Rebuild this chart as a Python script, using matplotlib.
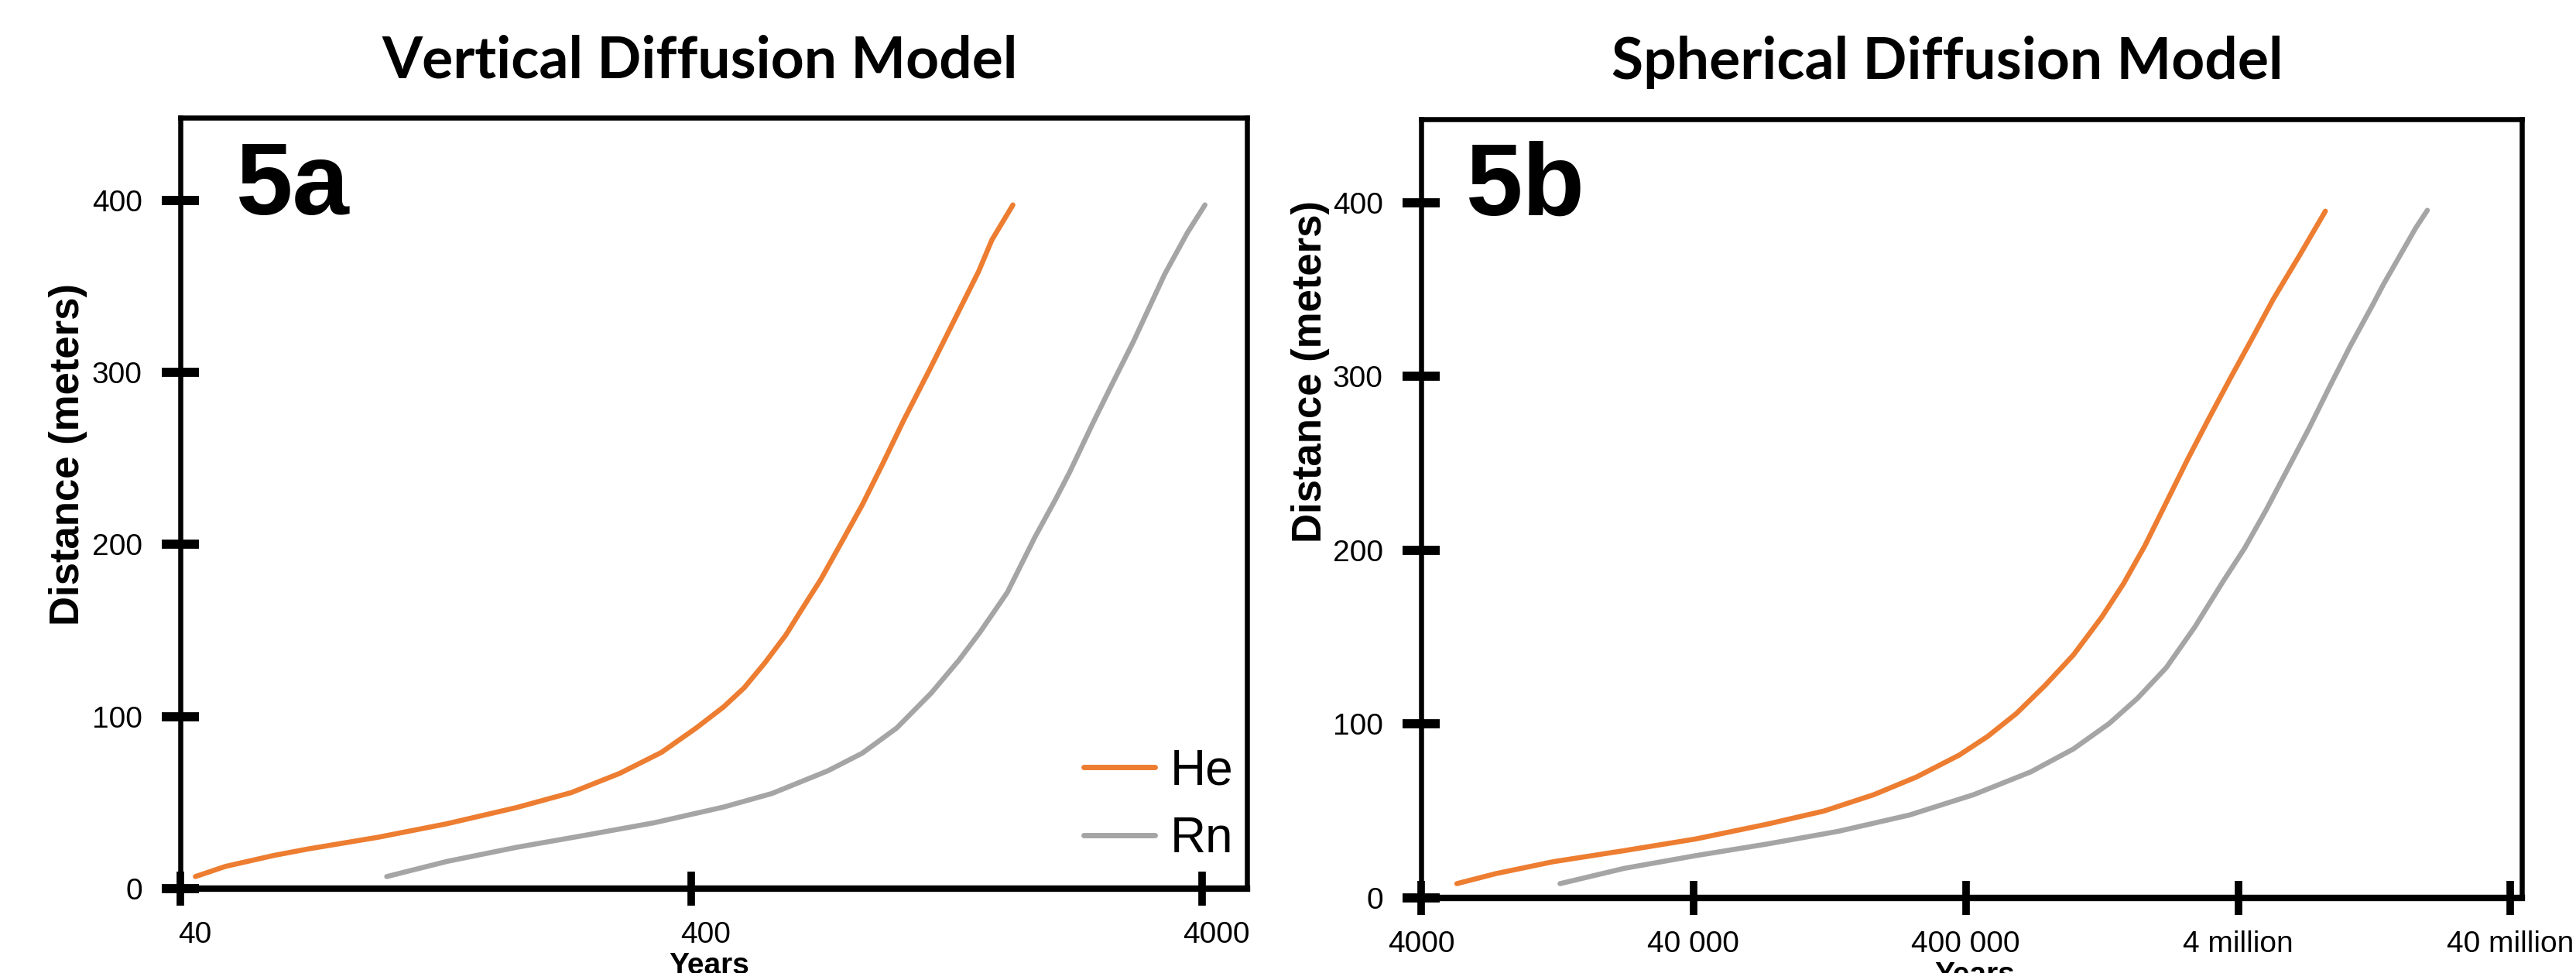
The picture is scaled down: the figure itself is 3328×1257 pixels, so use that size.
import matplotlib
matplotlib.use("Agg")
import matplotlib.pyplot as plt
import matplotlib.transforms as mtransforms

# Fig 5a - vertical diffusion, years vs distance (m)
vert_he_years = [42.8, 49.0, 61.0, 71.3, 97.3, 133, 182, 233, 290, 350, 409, 463, 508, 558,
                 613, 653, 717, 787, 865, 949, 1042, 1172, 1462, 1552, 1706]
vert_he_dist = [7.0, 12.9, 19.3, 23.1, 29.8, 37.7, 47.1, 55.8, 67.0, 79.2, 93.3, 105.6, 116.7, 131.3,
                147.4, 160.5, 179.5, 201.0, 223.0, 247.0, 272.0, 301.6, 358.7, 377.0, 397.3]
vert_rn_years = [101.4, 133, 182, 248, 339, 463, 576, 740, 865, 1010, 1181, 1337, 1469, 1664,
                 1885, 2070, 2203, 2443, 2656, 2938, 3381, 3744, 4055]
vert_rn_dist = [7.0, 15.8, 24.0, 31.0, 38.3, 47.4, 55.3, 68.4, 78.7, 93.3, 113.7, 132.7, 148.8, 172.2,
                204.4, 226.5, 242.0, 270.1, 292.0, 318.0, 357.0, 381.0, 397.3]

# Fig 5b - spherical diffusion
sph_he_years = [5408, 7535, 12190, 22270, 40690, 74430, 120600, 183800, 263800, 378600, 481800,
                613300, 781000, 993300, 1.264e6, 1.516e6, 1.817e6, 2.178e6, 2.608e6, 3.126e6,
                3.744e6, 4.487e6, 5.36e6, 6.74e6, 8.36e6]
sph_he_dist = [8.2, 14.0, 20.8, 27.2, 33.9, 42.4, 50.0, 59.4, 69.6, 82.2, 93.0, 106.1, 122.2, 139.8,
               161.7, 180.7, 202.6, 227.5, 252.3, 276.0, 299.0, 321.5, 344.0, 370.0, 395.1]
sph_rn_years = [12940, 22270, 40690, 74430, 135900, 248400, 427300, 692300, 993300, 1.343e6,
                1.709e6, 2.178e6, 2.770e6, 3.524e6, 4.224e6, 5.063e6, 6.067e6, 7.267e6, 8.702e6,
                1.03e7, 1.250e7, 1.364e7, 1.794e7, 1.98e7]
sph_rn_dist = [8.2, 17.0, 24.3, 31.0, 38.3, 47.7, 59.4, 72.5, 85.7, 100.3, 114.9, 132.5, 155.8, 182.2,
               201.2, 223.1, 246.5, 269.9, 294.7, 317.3, 341.5, 352.8, 385.4, 395.6]

vert_ticks = [40, 400, 4000]
vert_tick_labels = ["40", "400", "4000"]
sph_ticks = [4000, 40000, 400000, 4e6, 4e7]
sph_tick_labels = ["4000", "40 000", "400 000", "4 million", "40 million"]
dist_ticks = [0, 100, 200, 300, 400]

HE_COLOR = "#ED7D31"
RN_COLOR = "#A5A5A5"
SANS = ["Liberation Sans", "DejaVu Sans"]
TITLE = ["Lato", "DejaVu Sans"]

fig = plt.figure(figsize=(33.28, 12.57), dpi=100)
ax1 = fig.add_axes([233 / 3328, 1 - 1148 / 1257, 1378 / 3328, 996 / 1257])
ax2 = fig.add_axes([1836 / 3328, 1 - 1160 / 1257, 1422 / 3328, 1006 / 1257])


def style_axes(ax, xlim, ticks, labels):
    ax.set_xscale("log")
    ax.set_xlim(*xlim)
    ax.set_ylim(0, 448)
    ax.set_xticks(ticks)
    ax.set_xticklabels(labels)
    ax.xaxis.set_minor_locator(matplotlib.ticker.NullLocator())
    ax.set_yticks(dist_ticks)
    for side in ["left", "top", "right"]:
        ax.spines[side].set_linewidth(4.7)
    ax.spines["bottom"].set_linewidth(6.0)
    ax.tick_params(axis="y", direction="inout", length=35, width=8.5, pad=18)
    ax.tick_params(axis="x", direction="inout", length=32, width=7, pad=14)
    for lab in ax.get_xticklabels() + ax.get_yticklabels():
        lab.set_family(SANS)
        lab.set_fontsize(28)
    ax.set_ylabel("Distance (meters)", family=SANS, fontweight="bold", fontsize=38)
    ax.set_xlabel("Years", family=SANS, fontweight="bold", fontsize=28, va="top")


# 5a
ax1.plot(vert_he_years, vert_he_dist, color=HE_COLOR, lw=4.7, solid_capstyle="round", label="He")
ax1.plot(vert_rn_years, vert_rn_dist, color=RN_COLOR, lw=4.7, solid_capstyle="round", label="Rn")
style_axes(ax1, (40, 4900), vert_ticks, vert_tick_labels)
shift = mtransforms.ScaledTranslation(0.19, 0, fig.dpi_scale_trans)
for lab in ax1.get_xticklabels():
    lab.set_transform(lab.get_transform() + shift)
ax1.yaxis.set_label_coords(-0.087, 0.563)
ax1.xaxis.set_label_coords(0.496, -0.082)
ax1.set_title("Vertical Diffusion Model", family=TITLE, fontweight="bold", fontsize=54,
              x=0.487, y=1.052, va="baseline", pad=0)
ax1.text(0.052, 0.8745, "5a", transform=ax1.transAxes, family=SANS, fontweight="bold",
         fontsize=95, va="baseline")
leg = ax1.legend(loc="lower right", bbox_to_anchor=(0.987, 0.034), frameon=False,
                 prop={"family": SANS, "size": 46}, handlelength=1.45, handletextpad=0.3,
                 labelspacing=0.43, borderpad=0, borderaxespad=0)
for line in leg.get_lines():
    line.set_linewidth(5)
    line.set_solid_capstyle("round")

# 5b
ax2.plot(sph_he_years, sph_he_dist, color=HE_COLOR, lw=4.7, solid_capstyle="round")
ax2.plot(sph_rn_years, sph_rn_dist, color=RN_COLOR, lw=4.7, solid_capstyle="round")
style_axes(ax2, (4000, 4.4e7), sph_ticks, sph_tick_labels)
ax2.yaxis.set_label_coords(-0.083, 0.676)
ax2.xaxis.set_label_coords(0.503, -0.082)
ax2.set_title("Spherical Diffusion Model", family=TITLE, fontweight="bold", fontsize=54,
              x=0.478, y=1.052, va="baseline", pad=0)
ax2.text(0.041, 0.877, "5b", transform=ax2.transAxes, family=SANS, fontweight="bold",
         fontsize=95, va="baseline")

fig.savefig("out.png", dpi=100)
